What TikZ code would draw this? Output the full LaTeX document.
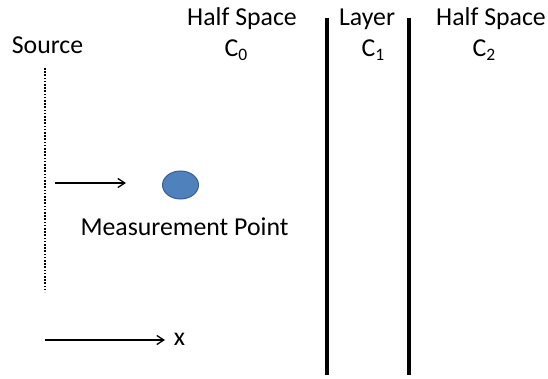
\documentclass[tikz,border=0pt]{standalone}
\usepackage{fontspec}
\setmainfont{Carlito}
\usetikzlibrary{arrows.meta,positioning,shapes.geometric}
\definecolor{pointblue}{HTML}{4F81BD}
\definecolor{pointedge}{HTML}{3A5F8E}
\newcommand{\csub}[1]{C\raisebox{-0.28ex}{\fontsize{17.5}{17.5}\selectfont #1}}

\begin{document}
\begin{tikzpicture}[
            x=1pt, y=-1pt,
            label/.style={font=\fontsize{25.8}{30}\selectfont, inner sep=0pt, anchor=base},
            wall/.style={line width=4pt},
            arrow/.style={-{Straight Barb[length=7pt,width=9pt]}, line width=1.3pt}
        ]
            \useasboundingbox (0,0) rectangle (548,379);

            % Labels at the top
            \node[label] (source) at (47.5,54) {Source};
            \node[label] (half0) at (242,26) {Half Space};
            \node[label] (c0) at (236,57) {\csub{0}};
            \node[label] (layer) at (367,26) {Layer};
            \node[label] (c1) at (373,57) {\csub{1}};
            \node[label] (half2) at (491,26) {Half Space};
            \node[label] (c2) at (484,57) {\csub{2}};

            % Source line
            \coordinate (srctop) at (45,68);
            \coordinate (srcbot) at (45,292);
            \draw[line width=1.6pt, dash pattern=on 1.6pt off 1.6pt] (srctop) -- (srcbot);

            % Measurement point
            \node[ellipse, draw=pointedge, fill=pointblue, line width=1pt,
                  minimum width=36pt, minimum height=28pt, inner sep=0pt] (point) at (180.5,185) {};
            \node[label] (measure) at (184.5,235) {Measurement Point};
            \coordinate (wavestart) at (55,183);
            \coordinate (waveend) at (126,183);
            \draw[arrow] (wavestart) -- (waveend);

            % Axis
            \coordinate (axisstart) at (45,340);
            \coordinate (axisend) at (165,340);
            \node[label] (xlabel) at (179.5,345) {x};
            \draw[arrow] (axisstart) -- (axisend);

            % Interfaces
            \coordinate (wall1top) at (327,18);
            \coordinate (wall1bot) at (327,375);
            \coordinate (wall2top) at (409,18);
            \coordinate (wall2bot) at (409,375);
            \draw[wall] (wall1top) -- (wall1bot);
            \draw[wall] (wall2top) -- (wall2bot);
        \end{tikzpicture}
\end{document}
